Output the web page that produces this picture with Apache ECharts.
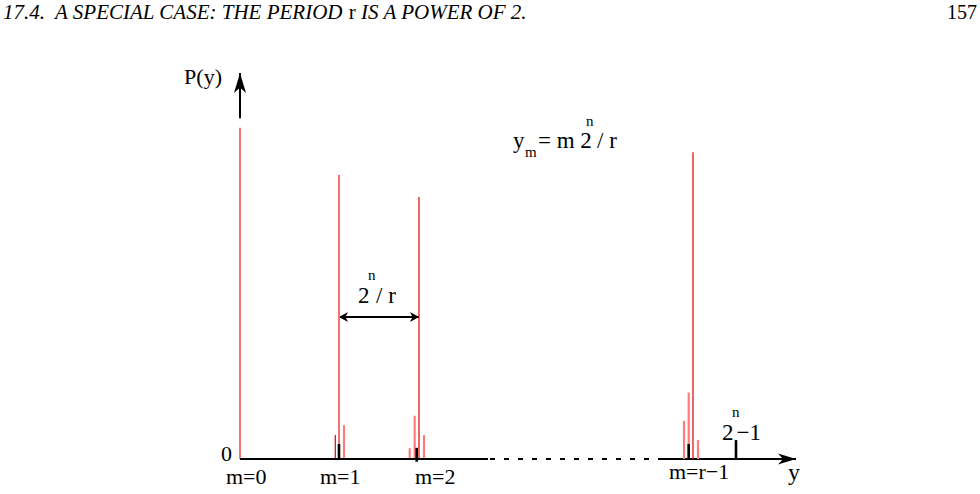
<!DOCTYPE html>
<html><head><meta charset="utf-8">
<script src="https://cdn.jsdelivr.net/npm/echarts@6/dist/echarts.min.js"></script>
<style>html,body{margin:0;padding:0;background:#fff}#c{width:980px;height:494px}</style>
</head><body><div id="c"></div>
<script>
// ---- data (arbitrary units: y along x-axis, P(y) vertical) ----
const peakLabels   = ['m=0', 'm=1', 'm=2', 'm=r\u22121'];
const mainPeakX    = [0, 9.9, 17.9, 45.3];
const mainPeakP    = [85.8, 73.6, 67.9, 79.5];
const sidePeakX    = [10.4, 16.97, 17.47, 18.4, 44.4, 44.87, 45.8];
const sidePeakP    = [8.8, 2.8, 11.2, 6.2, 9.9, 17.2, 4.9];
const thinPeakX    = [9.53];
const thinPeakP    = [6.2];
const tickX        = [9.9, 17.67, 44.87, 49.6];
const tickTop      = [3.9, 2.9, 3.9, 4.9];
const tickLow      = [0, -0.7, 0, 0];
const axisBreak    = [24.8, 42.0];   // dashed part of the y axis
const yMaxValue    = 49.6;           // 2^n - 1
const periodLevel  = 36.8;           // height of the 2^n/r arrow

const FONT = '"Liberation Serif", "Times New Roman", serif';

const chart = echarts.init(document.getElementById('c'), null, {renderer: 'svg'});

function stick(xs, topv, low, color, width) {
  return {
    type: 'custom', coordinateSystem: 'cartesian2d', silent: true,
    data: xs.map((x, i) => [x, topv[i], low ? low[i] : 0]),
    renderItem(params, api) {
      const a = api.coord([api.value(0), api.value(2)]);
      const b = api.coord([api.value(0), api.value(1)]);
      return {type: 'line', shape: {x1: a[0], y1: a[1], x2: b[0], y2: b[1]},
              style: {stroke: color, lineWidth: width}};
    }
  };
}

function head(tipP, from, len, half) {
  const dx = tipP[0] - from[0], dy = tipP[1] - from[1];
  const L = Math.hypot(dx, dy), ux = dx / L, uy = dy / L, nxp = -uy, nyp = ux;
  const bx = tipP[0] - ux * len, by = tipP[1] - uy * len;
  const nx = tipP[0] - ux * len * 0.72, ny = tipP[1] - uy * len * 0.72;
  return {type: 'polygon', shape: {points: [tipP, [bx + nxp * half, by + nyp * half], [nx, ny], [bx - nxp * half, by - nyp * half]]},
          style: {fill: '#000'}};
}

function arrow(p1, p2, both, len, half, width) {
  return {
    type: 'custom', coordinateSystem: 'cartesian2d', silent: true,
    data: [[p1[0], p1[1], p2[0], p2[1]]],
    renderItem(params, api) {
      const a = api.coord([api.value(0), api.value(1)]);
      const b = api.coord([api.value(2), api.value(3)]);
      const kids = [{type: 'line', shape: {x1: a[0], y1: a[1], x2: b[0], y2: b[1]}, style: {stroke: '#000', lineWidth: width}},
                    head(b, a, len, half)];
      if (both) kids.push(head(a, b, len, half));
      return {type: 'group', children: kids};
    }
  };
}

const option = {
  animation: false,
  grid: {left: 240, top: 73, width: 560, height: 386},
  xAxis: {type: 'value', min: 0, max: 56, show: false},
  yAxis: {type: 'value', min: 0, max: 100, show: false},
  series: [
    {type: 'line', silent: true, symbol: 'none', data: [[0, 0], [axisBreak[0], 0]], lineStyle: {color: '#000', width: 2}},
    {type: 'line', silent: true, symbol: 'none', data: [[axisBreak[0] + 0.2, 0], [axisBreak[1], 0]], lineStyle: {color: '#000', width: 2, type: [5, 9]}},
    arrow([axisBreak[1], 0], [55.6, 0], false, 18, 5.5, 2),
    arrow([0, 88.3], [0, 100], false, 20, 6, 2),
    arrow([mainPeakX[1], periodLevel], [mainPeakX[2], periodLevel], true, 9, 5, 2),
    stick(mainPeakX.slice(0, 2), mainPeakP.slice(0, 2), null, '#f47272', 2),
    stick(mainPeakX.slice(2), mainPeakP.slice(2), null, '#e00000', 1.2),
    stick(sidePeakX, sidePeakP, null, '#ff7b7b', 2.2),
    stick(thinPeakX, thinPeakP, null, '#e00000', 1.2),
    stick(tickX, tickTop, tickLow, '#000', 2.6)
  ]
};
chart.setOption(option);

// ---- text annotations anchored through the chart's scales ----
const toPx = (x, y) => chart.convertToPixel({gridIndex: 0}, [x, y]);
function txt(text, x, baseline, size, opts) {
  opts = opts || {};
  return {type: 'text', x: x, y: baseline - size * 0.34, silent: true,
          style: {text: text, font: (opts.italic ? 'italic ' : '') + size + 'px ' + FONT, fill: '#000',
                  textAlign: opts.align || 'left', textVerticalAlign: 'middle'}};
}
const g = [];
// header
g.push({type: 'text', x: 3, y: 19 - 21 * 0.34, silent: true,
  style: {text: '{a|17.4.  A SPECIAL CASE: THE PERIOD }{b|r}{a| IS A POWER OF 2.}',
          textVerticalAlign: 'middle',
          rich: {a: {font: 'italic 21px ' + FONT, fill: '#000'}, b: {font: '21px ' + FONT, fill: '#000'}}}});
g.push(txt('157', 977, 19, 20, {align: 'right'}));
// m labels
const mOff = [-14, -19, -4, -24];
const mBase = [25, 25, 25, 20];
peakLabels.forEach((t, i) => {
  const p = toPx(mainPeakX[i], 0);
  g.push(txt(t, p[0] + mOff[i], p[1] + mBase[i], 22));
});
// zero
const o = toPx(0, 0);
g.push(txt('0', o[0] - 19, o[1] + 2, 22));
// P(y)
const yTop = toPx(0, 100);
g.push(txt('P(y)', yTop[0] - 18, yTop[1] + 11, 22, {align: 'right'}));
// y axis label
const xTip = toPx(55.6, 0);
g.push(txt('y', xTip[0] - 8, xTip[1] + 21, 24));
// 2^n - 1
const ym = toPx(yMaxValue, 0);
g.push(txt('2', ym[0] - 14, ym[1] - 19, 23));
g.push(txt('n', ym[0] - 4, ym[1] - 42, 15));
g.push(txt('\u22121', ym[0] + 0.5, ym[1] - 19, 23));
// 2^n / r
const pa = toPx(mainPeakX[1], periodLevel);
g.push(txt('2', pa[0] + 19, pa[1] - 14, 23));
g.push(txt('n', pa[0] + 29, pa[1] - 37, 15));
g.push(txt('/ r', pa[0] + 37, pa[1] - 14, 23));
// y_m = m 2^n / r
g.push(txt('y', 513, 148, 23));
g.push(txt('m', 525, 157, 15));
g.push(txt('= m 2', 538, 148, 23));
g.push(txt('n', 586, 126, 15));
g.push(txt('/ r', 597, 148, 23));
chart.setOption({graphic: g});
</script>
</body></html>
